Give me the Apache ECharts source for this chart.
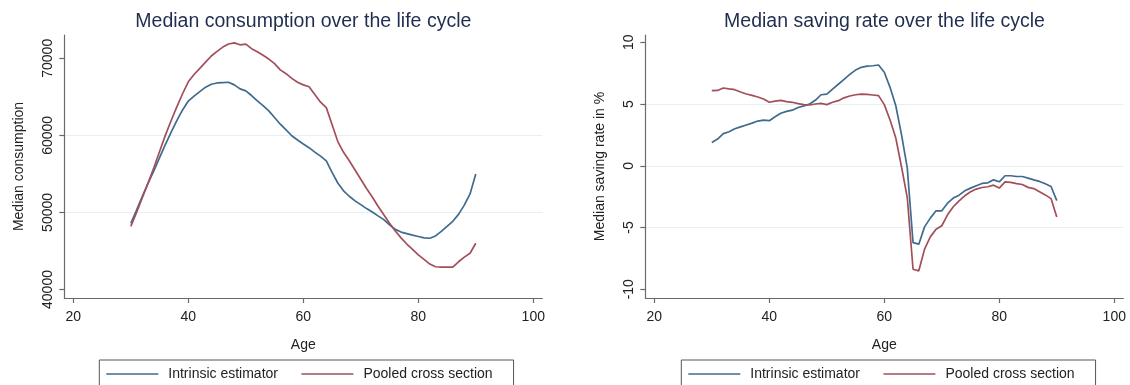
<!DOCTYPE html>
<html>
<head>
<meta charset="utf-8">
<script src="https://cdn.jsdelivr.net/npm/echarts@6/dist/echarts.min.js"></script>
<style>
html,body{margin:0;padding:0;background:#fff;}
#chart{width:1130px;height:385px;}
</style>
</head>
<body>
<div id="chart"></div>
<script>
const ages = [30,31,32,33,34,35,36,37,38,39,40,41,42,43,44,45,46,47,48,49,50,51,52,53,54,55,56,57,58,59,60,61,62,63,64,65,66,67,68,69,70,71,72,73,74,75,76,77,78,79,80,81,82,83,84,85,86,87,88,89,90];

const consIntrinsic = [48600,50300,52100,53800,55400,57100,58800,60400,61900,63300,64450,65100,65680,66250,66630,66800,66850,66890,66550,66030,65770,65170,64480,63870,63180,62320,61450,60700,59950,59400,58880,58400,57830,57300,56700,55200,53820,52800,52100,51500,51010,50500,50060,49550,49070,48400,47800,47450,47250,47050,46880,46700,46650,46950,47550,48200,48850,49750,50950,52400,55000];
const consPooled = [48200,50000,51900,53800,55800,57900,60000,61900,63700,65400,66950,67900,68700,69500,70300,70900,71450,71850,72000,71750,71850,71250,70850,70400,69900,69300,68500,68000,67400,66900,66550,66300,65300,64300,63600,61400,59200,57800,56700,55500,54300,53100,52000,50800,49700,48600,47600,46700,45900,45200,44500,43900,43300,42950,42900,42900,42900,43600,44200,44700,46000];

const saveIntrinsic = [1.89,2.16,2.6,2.75,3.0,3.15,3.3,3.45,3.62,3.7,3.65,3.97,4.25,4.4,4.5,4.72,4.85,5.0,5.3,5.75,5.8,6.2,6.6,7.0,7.4,7.75,7.97,8.07,8.1,8.16,7.57,6.35,4.86,2.5,-0.2,-6.22,-6.35,-4.95,-4.24,-3.65,-3.65,-3.03,-2.62,-2.38,-2.03,-1.81,-1.62,-1.43,-1.38,-1.14,-1.3,-0.81,-0.81,-0.87,-0.87,-1.0,-1.14,-1.27,-1.46,-1.68,-2.82];
const savePooled = [6.08,6.1,6.3,6.22,6.16,5.97,5.81,5.7,5.57,5.41,5.14,5.24,5.3,5.19,5.14,5.03,4.95,4.92,5.0,5.05,4.95,5.14,5.27,5.5,5.65,5.75,5.8,5.78,5.73,5.68,4.95,3.7,2.24,-0.1,-2.6,-8.38,-8.51,-6.76,-5.76,-5.14,-4.86,-3.97,-3.32,-2.84,-2.43,-2.11,-1.89,-1.76,-1.7,-1.57,-1.81,-1.3,-1.35,-1.45,-1.52,-1.75,-1.85,-2.1,-2.36,-2.66,-4.15];

const xTicks = [20,40,60,80,100];
const consTicks = [40000,50000,60000,70000];
const saveTicks = [-10,-5,0,5,10];

const seriesNames = ['Intrinsic estimator','Pooled cross section'];
const titles = ['Median consumption over the life cycle','Median saving rate over the life cycle'];

const FONT = '"Liberation Sans", Arial, sans-serif';
const BLUE = '#3f6b8e';
const RED = '#a24f5a';
const AXIS = '#6a6a6a';
const GRIDC = '#e6eff1';
const TXT = '#222';

function pairs(v){ return ages.map((a,i)=>[a,v[i]]); }

function xAxisCfg(gi){
  return {
    type:'value', gridIndex:gi, min:18.43, max:101.57,
    name:'Age', nameLocation:'middle', nameGap:40,
    nameTextStyle:{fontFamily:FONT,fontSize:14,color:TXT},
    axisLine:{show:true,onZero:false,lineStyle:{color:AXIS,width:1.2}},
    axisTick:{show:true,length:5,customValues:xTicks,lineStyle:{color:AXIS,width:1.2}},
    axisLabel:{customValues:xTicks,margin:12,fontFamily:FONT,fontSize:14,color:TXT,formatter:v=>String(v)},
    splitLine:{show:false}
  };
}
function yAxisCfg(gi,min,max,ticks,name){
  return {
    type:'value', gridIndex:gi, min:min, max:max,
    name:name, nameLocation:'middle', nameGap:38,
    nameTextStyle:{fontFamily:FONT,fontSize:14,color:TXT},
    axisLine:{show:true,onZero:false,lineStyle:{color:AXIS,width:1.2}},
    axisTick:{show:true,length:5,customValues:ticks,lineStyle:{color:AXIS,width:1.2}},
    axisLabel:{customValues:ticks,rotate:90,margin:9,fontFamily:FONT,fontSize:14,color:TXT,formatter:v=>String(v)},
    splitLine:{show:true,showMinLine:false,showMaxLine:false,lineStyle:{color:GRIDC,width:1}}
  };
}
function legendCfg(left){
  return {
    data:seriesNames, left:left, top:360, orient:'horizontal',
    icon:'rect', itemWidth:52, itemHeight:1.7, itemGap:23.4,
    padding:[7,21,12,7],
    borderColor:'#555', borderWidth:1,
    selectedMode:false,
    textStyle:{fontFamily:FONT,fontSize:14,color:TXT,padding:[0,0,0,5]}
  };
}
function lineSeries(name,xi,data,color){
  return {
    name:name, type:'line', xAxisIndex:xi, yAxisIndex:xi,
    data:pairs(data), symbol:'none', showSymbol:false,
    lineStyle:{color:color,width:1.7}, itemStyle:{color:color},
    animation:false
  };
}

const chart = echarts.init(document.getElementById('chart'), null, {renderer:'canvas'});
chart.setOption({
  backgroundColor:'#fff',
  animation:false,
  title:[
    {text:titles[0], left:135.3, top:12, padding:0, textStyle:{fontFamily:FONT,fontSize:19.5,fontWeight:'normal',color:'#1f2d4e'}},
    {text:titles[1], left:724.1, top:12, padding:0, textStyle:{fontFamily:FONT,fontSize:19.5,fontWeight:'normal',color:'#1f2d4e'}}
  ],
  legend:[legendCfg(99.3), legendCfg(681.3)],
  grid:[
    {left:64.3, right:587.7, top:35, bottom:87, containLabel:false},
    {left:645.3, right:6.7, top:35, bottom:87, containLabel:false}
  ],
  xAxis:[xAxisCfg(0), xAxisCfg(1)],
  yAxis:[
    yAxisCfg(0,38897,73023,consTicks,'Median consumption'),
    yAxisCfg(1,-10.71,10.59,saveTicks,'Median saving rate in %')
  ],
  series:[
    lineSeries(seriesNames[0],0,consIntrinsic,BLUE),
    lineSeries(seriesNames[1],0,consPooled,RED),
    lineSeries(seriesNames[0],1,saveIntrinsic,BLUE),
    lineSeries(seriesNames[1],1,savePooled,RED)
  ]
});
</script>
</body>
</html>
